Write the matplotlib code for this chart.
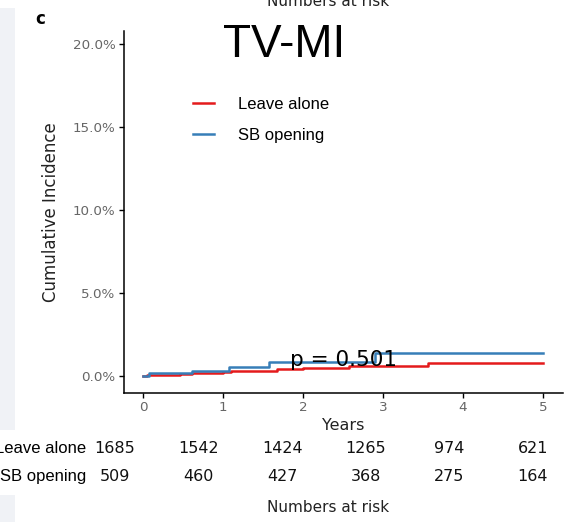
import matplotlib
matplotlib.use("Agg")
import matplotlib.pyplot as plt
from matplotlib.lines import Line2D
from matplotlib.patches import Rectangle
import numpy as np

# ---- data ----
groups = ["Leave alone", "SB opening"]
colors = ["#E41A1C", "#377EB8"]
leave_t = [0, 0.05, 0.46, 0.61, 1.0, 1.1, 1.67, 2.0, 2.58, 3.56, 5.0]
leave_v = [0.0, 0.0005, 0.001, 0.0018, 0.0025, 0.0032, 0.0045, 0.005, 0.006, 0.008, 0.008]
sb_t = [0, 0.08, 0.61, 1.08, 1.58, 2.9, 5.0]
sb_v = [0.0, 0.0016, 0.0028, 0.0055, 0.0085, 0.014, 0.014]
risk_times = [0, 1, 2, 3, 4, 5]
risk_leave = [1685, 1542, 1424, 1265, 974, 621]
risk_sb = [509, 460, 427, 368, 275, 164]
yticks = [0.0, 0.05, 0.10, 0.15, 0.20]
ytick_labels = ["0.0%", "5.0%", "10.0%", "15.0%", "20.0%"]
xticks = [0, 1, 2, 3, 4, 5]
p_text = "p = 0.501"
title = "TV-MI"

W, H = 570, 522
fig = plt.figure(figsize=(W / 100, H / 100), dpi=100)
fig.patch.set_facecolor("white")

def fx(px):
    return px / W

def fy(py):
    return 1 - py / H

# faint slide background at the left edge
bg = "#F0F2F6"
fig.patches.append(Rectangle((0, fy(430)), fx(15), fy(8) - fy(430), transform=fig.transFigure,
                             facecolor=bg, edgecolor="none", zorder=-5))
fig.patches.append(Rectangle((0, 0), fx(15), fy(495), transform=fig.transFigure,
                             facecolor=bg, edgecolor="none", zorder=-5))

# main axes
ax = fig.add_axes([fx(124), fy(393), fx(563) - fx(124), fy(31) - fy(393)])
ax.set_xlim(-0.2375, 5.25)
ax.set_ylim(-0.0102, 0.2078)
ax.step(leave_t, leave_v, where="post", color=colors[0], lw=1.8)
ax.step(sb_t, sb_v, where="post", color=colors[1], lw=1.8)

for s in ["top", "right"]:
    ax.spines[s].set_visible(False)
for s in ["left", "bottom"]:
    ax.spines[s].set_linewidth(1.1)
    ax.spines[s].set_color("black")
ax.set_yticks(yticks)
ax.set_yticklabels(ytick_labels)
ax.set_xticks(xticks)
ax.tick_params(axis="both", colors="black", labelcolor="#666666", labelsize=9.7,
               length=3.5, width=1.0, pad=2.5)
ax.set_ylabel("Cumulative Incidence", fontsize=12, color="#222222", labelpad=9)
ax.set_xlabel("Years", fontsize=11.5, color="#222222", labelpad=3)

ax.text(2.51, 0.0096, p_text, fontsize=15.5, ha="center", va="center", color="black")

handles = [Line2D([], [], color=c, lw=1.8) for c in colors]
leg = fig.legend(handles, groups, loc="upper left", bbox_to_anchor=(fx(193), fy(97)),
                 frameon=False, handlelength=1.25, handletextpad=1.45, labelspacing=0.95,
                 borderpad=0, borderaxespad=0,
                 prop={"family": "Liberation Sans", "size": 12})

fig.text(fx(284), fy(45), title, fontsize=33, family="Liberation Sans",
         ha="center", va="center", color="black")
fig.text(fx(40), fy(19), "c", fontsize=12, fontweight="bold", ha="center", va="center")
fig.text(fx(328), fy(1), "Numbers at risk", fontsize=11, ha="center", va="center",
         color="#222222")

# risk table
tax = fig.add_axes([fx(90), fy(490), fx(558) - fx(90), fy(435) - fy(490)])
tax.set_xlim(-0.3, 5.3)
tax.set_ylim(0, 2)
tax.axis("off")
for t, a, b in zip(risk_times, risk_leave, risk_sb):
    tax.text(t, 1.5, str(a), ha="center", va="center", fontsize=11.5, color="#111111")
    tax.text(t, 0.5, str(b), ha="center", va="center", fontsize=11.5, color="#111111")
tax.text(-0.35, 1.5, groups[0], ha="right", va="center", fontsize=12,
         family="Liberation Sans", clip_on=False)
tax.text(-0.35, 0.5, groups[1], ha="right", va="center", fontsize=12,
         family="Liberation Sans", clip_on=False)
fig.text(fx(328), fy(508), "Numbers at risk", fontsize=11, ha="center", va="center",
         color="#222222")

fig.savefig("out.png", dpi=100)
